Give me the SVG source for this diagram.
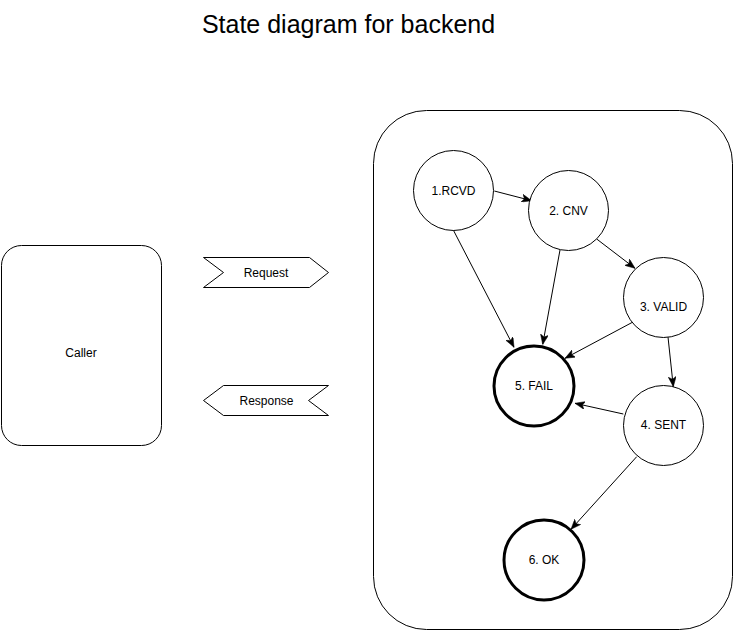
<svg xmlns="http://www.w3.org/2000/svg" width="734" height="631" viewBox="0 0 734 631">
<style>
text{font-family:"Liberation Sans",Arial,Helvetica,sans-serif;font-size:12px;fill:#000;text-anchor:middle;dominant-baseline:central}
.shape{fill:#fff;stroke:#000;stroke-width:1}
.bold{fill:#fff;stroke:#000;stroke-width:3}
.edge{fill:none;stroke:#000;stroke-width:1;marker-end:url(#arr)}
</style>
<defs>
<marker id="arr" viewBox="0 0 10 8" refX="10" refY="4" markerWidth="10" markerHeight="8" markerUnits="userSpaceOnUse" orient="auto">
<path d="M0,0 L10,4 L0,8 L2.5,4 Z" fill="#000" stroke="#000" stroke-width="0.5"/>
</marker>
</defs>
<rect width="734" height="631" fill="#fff"/>
<text x="348.5" y="24" style="font-size:25px">State diagram for backend</text>
<g id="caller"><rect class="shape" x="1.5" y="245.5" width="160" height="200" rx="20" ry="20"/><text x="81" y="353">Caller</text></g>
<g id="request"><path class="shape" d="M203.5,257.5 L309.5,257.5 L328.5,272.5 L309.5,287.5 L203.5,287.5 L223.5,272.5 Z"/><text x="266" y="272.5">Request</text></g>
<g id="response"><path class="shape" d="M203.5,400.5 L223.5,385.5 L328.5,385.5 L308.5,400.5 L328.5,415.5 L223.5,415.5 Z"/><text x="266.5" y="400.5">Response</text></g>
<g id="backend"><rect class="shape" x="373.5" y="110.5" width="359" height="519" rx="53" ry="53"/></g>
<g id="connectors">
<line class="edge" x1="494.3" y1="191" x2="531.7" y2="200.7"/>
<line class="edge" x1="596.7" y1="239" x2="635" y2="268.3"/>
<line class="edge" x1="668" y1="337" x2="673.3" y2="386.7"/>
<line class="edge" x1="453.3" y1="230" x2="514" y2="347.3"/>
<line class="edge" x1="560" y1="250" x2="542.7" y2="344.5"/>
<line class="edge" x1="636.7" y1="320" x2="565" y2="358.3"/>
<line class="edge" x1="623.3" y1="414" x2="575" y2="403.3"/>
<line class="edge" x1="636.7" y1="456.7" x2="571" y2="529.3"/>
</g>
<g id="n1"><circle class="shape" cx="453.5" cy="190.5" r="40"/><text x="453.5" y="190.5">1.RCVD</text></g>
<g id="n2"><circle class="shape" cx="568.5" cy="210.5" r="40"/><text x="568.5" y="210.5">2. CNV</text></g>
<g id="n3"><circle class="shape" cx="663.5" cy="297.5" r="40"/><text x="663.5" y="307">3. VALID</text></g>
<g id="n4"><circle class="shape" cx="663.5" cy="425.5" r="40"/><text x="663.5" y="425">4. SENT</text></g>
<g id="n5"><circle class="bold" cx="534" cy="386" r="40"/><text x="534" y="385.5">5. FAIL</text></g>
<g id="n6"><circle class="bold" cx="544" cy="560" r="40"/><text x="544" y="560">6. OK</text></g>
</svg>
